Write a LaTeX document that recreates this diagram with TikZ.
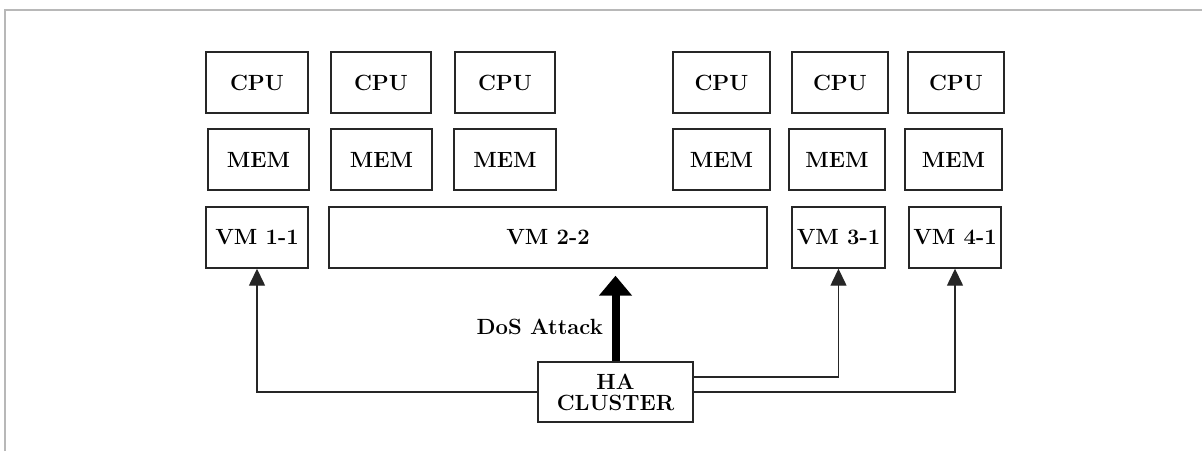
\documentclass[tikz,border=0pt]{standalone}
\usepackage{fontspec}
\setmainfont{Latin Modern Roman}
\usetikzlibrary{arrows.meta,calc}
\begin{document}
\begin{tikzpicture}[x=1pt,y=-1pt,
  box/.style={draw=black!85,line width=1.4pt,fill=white,inner sep=0pt,minimum height=61pt,font=\fontsize{22}{22}\selectfont\bfseries},
  conn/.style={draw=black!85,line width=1.4pt,-{Triangle[width=16pt,length=17pt]}},
  attack/.style={draw=black,line width=8pt,-{Triangle[width=32pt,length=20pt]}},
  frame/.style={draw=black!28,line width=2pt},
  lbl/.style={font=\fontsize{22}{22}\selectfont\bfseries,inner sep=0pt}]
\useasboundingbox (0,0) rectangle (1202,451);
\draw[frame] (5,451) -- (5,10) -- (1202,10);
% CPU row
\node[box,minimum width=102pt] (cpu1) at (257,82.5) {CPU};
\node[box,minimum width=100pt] (cpu2) at (381,82.5) {CPU};
\node[box,minimum width=100pt] (cpu3) at (505,82.5) {CPU};
\node[box,minimum width=97pt] (cpu4) at (721.5,82.5) {CPU};
\node[box,minimum width=96pt] (cpu5) at (840,82.5) {CPU};
\node[box,minimum width=96pt] (cpu6) at (956,82.5) {CPU};
% MEM row
\node[box,minimum width=101pt] (mem1) at (258.5,159.5) {MEM};
\node[box,minimum width=101pt] (mem2) at (381.5,159.5) {MEM};
\node[box,minimum width=102pt] (mem3) at (505,159.5) {MEM};
\node[box,minimum width=97pt] (mem4) at (721.5,159.5) {MEM};
\node[box,minimum width=96pt] (mem5) at (837,159.5) {MEM};
\node[box,minimum width=97pt] (mem6) at (953.5,159.5) {MEM};
% VM row
\node[box,minimum width=102pt] (vm11) at (257,237.5) {VM 1-1};
\node[box,minimum width=438pt] (vm22) at (548,237.5) {VM 2-2};
\node[box,minimum width=93pt] (vm31) at (838.5,237.5) {VM 3-1};
\node[box,minimum width=92pt] (vm41) at (955,237.5) {VM 4-1};
% HA cluster
\node[box,minimum width=155pt,minimum height=60pt,align=center,font=\fontsize{22}{21}\selectfont\bfseries] (ha) at (615.5,392) {HA\\CLUSTER};
% connectors
\coordinate (haE1) at ($(ha.east)+(0,-15)$);
\draw[conn] (ha.west) -| (vm11.south);
\draw[conn] (haE1) -| (vm31.south);
\draw[conn] (ha.east) -| (vm41.south);
\coordinate (atk) at ($(ha.north |- vm22.south)+(0,7)$);
\draw[attack] (ha.north) -- (atk);
\node[lbl,anchor=east] (dos) at (603,327) {DoS Attack};
\end{tikzpicture}
\end{document}
